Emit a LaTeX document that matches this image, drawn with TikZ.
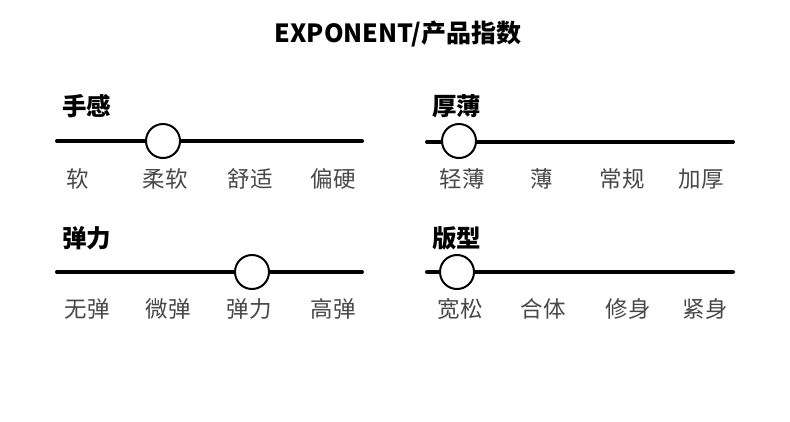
\documentclass[tikz,border=0pt]{standalone}
\usepackage{fontspec}
\setmainfont{Noto Sans CJK SC}
\definecolor{gradegray}{HTML}{484848}
\begin{document}
\begin{tikzpicture}[x=1pt, y=-1pt,
    heading/.style={font=\fontsize{24.5}{26}\selectfont\bfseries, anchor=west, inner sep=0pt},
    grade/.style={font=\fontsize{22.5}{24}\selectfont, text=gradegray, inner sep=0pt},
    track/.style={line width=4pt, line cap=round},
    knob/.style={circle, draw, line width=2pt, fill=white, minimum size=34pt, inner sep=0pt}]
\useasboundingbox[fill=white] (0,0) rectangle (790,421);
\node[font=\fontsize{25}{28}\selectfont\bfseries, inner sep=0pt] (title) at (398,34) {EXPONENT/产品指数};

% 手感
\node[heading] (hand) at (62,106) {手感};
\coordinate (hand_l) at (57,141);
\coordinate (hand_r) at (362,141);
\draw[track] (hand_l) -- (hand_r);
\node[knob] (hand_knob) at (163,141) {};
\node[grade] (hand_a) at (78,179) {软};
\node[grade] (hand_b) at (165,179) {柔软};
\node[grade] (hand_c) at (250,179) {舒适};
\node[grade] (hand_d) at (333,179) {偏硬};

% 厚薄
\node[heading] (thick) at (432,106) {厚薄};
\coordinate (thick_l) at (427,142);
\coordinate (thick_r) at (733,142);
\draw[track] (thick_l) -- (thick_r);
\node[knob] (thick_knob) at (459,141) {};
\node[grade] (thick_a) at (462,179) {轻薄};
\node[grade] (thick_b) at (542,179) {薄};
\node[grade] (thick_c) at (622,179) {常规};
\node[grade] (thick_d) at (701,179) {加厚};

% 弹力
\node[heading] (elastic) at (62,238) {弹力};
\coordinate (elastic_l) at (57,272);
\coordinate (elastic_r) at (362,272);
\draw[track] (elastic_l) -- (elastic_r);
\node[knob] (elastic_knob) at (252,272) {};
\node[grade] (elastic_a) at (87,309) {无弹};
\node[grade] (elastic_b) at (168,309) {微弹};
\node[grade] (elastic_c) at (249,309) {弹力};
\node[grade] (elastic_d) at (333,309) {高弹};

% 版型
\node[heading] (fit) at (432,238) {版型};
\coordinate (fit_l) at (427,272);
\coordinate (fit_r) at (733,272);
\draw[track] (fit_l) -- (fit_r);
\node[knob] (fit_knob) at (457,272) {};
\node[grade] (fit_a) at (460,309) {宽松};
\node[grade] (fit_b) at (543,309) {合体};
\node[grade] (fit_c) at (628,309) {修身};
\node[grade] (fit_d) at (705,309) {紧身};
\end{tikzpicture}
\end{document}
